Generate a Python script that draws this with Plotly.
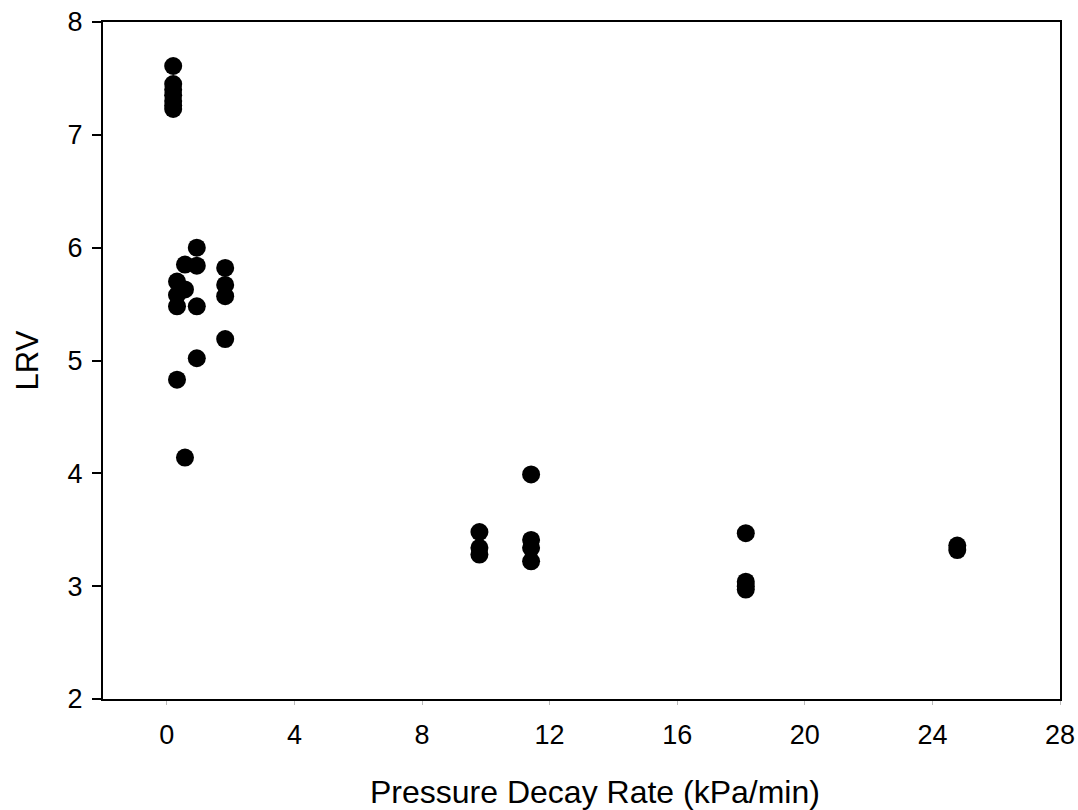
import plotly.graph_objects as go

# Data
decay_rate = [0.2, 0.2, 0.2, 0.2, 0.2, 0.2, 0.2,
              0.32, 0.32, 0.32, 0.32,
              0.57, 0.57, 0.57,
              0.94, 0.94, 0.94, 0.94,
              1.83, 1.83, 1.83, 1.83,
              9.8, 9.8, 9.8,
              11.42, 11.42, 11.42, 11.42,
              18.15, 18.15, 18.15, 18.15,
              24.78, 24.78]
lrv = [7.61, 7.45, 7.40, 7.35, 7.30, 7.26, 7.23,
       5.70, 5.58, 5.48, 4.83,
       5.85, 5.63, 4.14,
       6.00, 5.84, 5.48, 5.02,
       5.82, 5.67, 5.57, 5.19,
       3.48, 3.34, 3.28,
       3.99, 3.41, 3.34, 3.22,
       3.47, 3.04, 3.00, 2.97,
       3.36, 3.32]

x_ticks = [0, 4, 8, 12, 16, 20, 24, 28]
y_ticks = [2, 3, 4, 5, 6, 7, 8]
x_title = "Pressure Decay Rate (kPa/min)"
y_title = "LRV"

fig = go.Figure()
fig.add_trace(go.Scatter(
    x=decay_rate, y=lrv, mode="markers",
    marker=dict(size=18, color="black", line=dict(width=0)),
    showlegend=False,
))

font_family = "Liberation Sans, Arial, sans-serif"

fig.update_layout(
    width=1078, height=810,
    margin=dict(l=103, r=18, t=22, b=111),
    paper_bgcolor="white", plot_bgcolor="white",
    font=dict(family=font_family, color="black"),
    xaxis=dict(
        range=[-2, 28], tickvals=x_ticks, ticktext=[str(v) for v in x_ticks],
        showgrid=False, zeroline=False, automargin=False,
        showline=True, linecolor="black", linewidth=2, mirror=True,
        ticks="outside", ticklen=4, tickwidth=1, tickcolor="#bbbbbb",
        tickfont=dict(size=27, family=font_family, color="black"),
        ticklabelstandoff=7,
    ),
    yaxis=dict(
        range=[2, 8], tickvals=y_ticks, ticktext=[str(v) for v in y_ticks],
        showgrid=False, zeroline=False, automargin=False,
        showline=True, linecolor="black", linewidth=2, mirror=True,
        ticks="outside", ticklen=9, tickwidth=2, tickcolor="black",
        tickfont=dict(size=27, family=font_family, color="black"),
        ticklabelstandoff=4,
        title=dict(text=y_title,
                   font=dict(size=31, family=font_family, color="black"),
                   standoff=20),
    ),
    annotations=[dict(
        text=x_title, xref="paper", yref="paper",
        x=0.514, y=-0.137, xanchor="center", yanchor="middle",
        showarrow=False,
        font=dict(size=32, family=font_family, color="black"),
    )],
)

fig.write_html("out.html")
